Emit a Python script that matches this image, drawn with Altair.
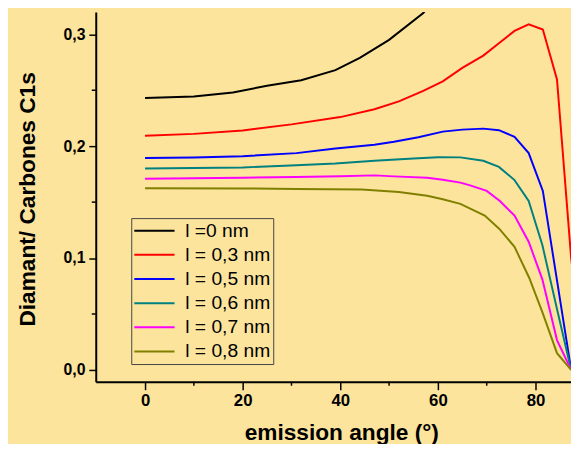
import altair as alt
import pandas as pd

series_names = ["l =0 nm", "l = 0,3 nm", "l = 0,5 nm", "l = 0,6 nm", "l = 0,7 nm", "l = 0,8 nm"]
series_colors = ["#000000", "#ff0000", "#0000ff", "#008080", "#ff00ff", "#808000"]

angle_l0 = [0, 10, 18, 25, 32, 39, 44, 50, 57, 60]
ratio_l0 = [0.243, 0.2445, 0.248, 0.254, 0.259, 0.268, 0.279, 0.295, 0.319, 0.335]

angle_l03 = [0, 10, 20, 30, 40, 47, 52, 57, 61, 65, 69.3, 72.5, 75.7, 78.6, 81.5, 84.4, 87.3, 90]
ratio_l03 = [0.2093, 0.211, 0.214, 0.2195, 0.226, 0.233, 0.240, 0.2495, 0.258, 0.270, 0.281, 0.292,
             0.303, 0.309, 0.3043, 0.2597, 0.100, 0.0]

angle_l05 = [0, 10, 20, 31, 39, 47, 51, 56, 61, 65, 69.3, 72.5, 75.7, 78.6, 81.5, 84.4, 87.3]
ratio_l05 = [0.1894, 0.1898, 0.191, 0.1938, 0.198, 0.2013, 0.204, 0.208, 0.213, 0.2148, 0.2157,
             0.2143, 0.2084, 0.1938, 0.160, 0.080, 0.0]

angle_l06 = [0, 10, 20, 31, 39, 47, 55, 60, 64.6, 69.3, 72.5, 75.7, 78.6, 81.4, 84.4, 87.3]
ratio_l06 = [0.180, 0.1805, 0.181, 0.183, 0.1845, 0.187, 0.189, 0.1902, 0.190, 0.187, 0.1815,
             0.1697, 0.151, 0.1117, 0.0545, 0.0]

angle_l07 = [0, 20, 31, 40, 47, 51, 57.8, 61, 64.6, 66.6, 70, 72.7, 75.7, 78.6, 81.4, 84.4, 87.3]
ratio_l07 = [0.1709, 0.1718, 0.1724, 0.1732, 0.1739, 0.173, 0.1718, 0.170, 0.1674, 0.165, 0.160,
             0.151, 0.138, 0.1146, 0.081, 0.0267, 0.0]

angle_l08 = [0, 20, 31, 44.4, 52, 57.8, 61, 64.6, 69.6, 72.6, 75.7, 78.7, 81.4, 84.4, 87.3]
ratio_l08 = [0.1624, 0.1622, 0.1618, 0.1612, 0.159, 0.1557, 0.1525, 0.1484, 0.138, 0.126, 0.110,
             0.0824, 0.0516, 0.015, 0.0]

x_major = [0, 20, 40, 60, 80]
x_minor = [10, 30, 50, 70]
y_major = [0.0, 0.1, 0.2, 0.3]
y_minor = [0.05, 0.15, 0.25]

series_data = [
    (series_names[0], angle_l0, ratio_l0),
    (series_names[1], angle_l03, ratio_l03),
    (series_names[2], angle_l05, ratio_l05),
    (series_names[3], angle_l06, ratio_l06),
    (series_names[4], angle_l07, ratio_l07),
    (series_names[5], angle_l08, ratio_l08),
]
rows = []
for name, angles, vals in series_data:
    for i, (a, v) in enumerate(zip(angles, vals)):
        rows.append({"series": name, "angle": a, "ratio": v, "order": i})
df = pd.DataFrame(rows)
xminor_df = pd.DataFrame({"angle": x_minor})
yminor_df = pd.DataFrame({"ratio": y_minor})

BG = "#FCE49C"
FONT = "Liberation Sans"
PLOT_W, PLOT_H = 482, 375
x_scale = alt.Scale(domain=[-10.1, 87.27], nice=False, zero=False)
y_scale = alt.Scale(domain=[-0.0106, 0.3199], nice=False, zero=False)
label_expr = "replace(format(datum.value, '.1f'), '.', ',')"

lines = alt.Chart(df).mark_line(strokeWidth=2, clip=True).encode(
    x=alt.X("angle:Q", scale=x_scale,
            axis=alt.Axis(values=x_major, format="d", title="emission angle (°)", orient="bottom",
                          domain=True, tickSize=8, labelFontSize=17, labelFontWeight="bold",
                          labelPadding=3, titleFontSize=23, titleFontWeight="bold", titleX=249,
                          titleY=59, titleBaseline="alphabetic", titleAlign="center")),
    y=alt.Y("ratio:Q", scale=y_scale,
            axis=alt.Axis(values=y_major, labelExpr=label_expr, title="Diamant/ Carbones C1s",
                          orient="left", domain=True, tickSize=7, labelFontSize=16,
                          labelFontWeight="bold", labelPadding=4, titleFontSize=23,
                          titleFontWeight="bold", titleX=-62, titleY=189.5, titleAngle=270,
                          titleBaseline="alphabetic", titleAlign="center")),
    color=alt.Color("series:N", scale=alt.Scale(domain=series_names, range=series_colors),
                    legend=alt.Legend(title=None, orient="none", legendX=36, legendY=209,
                                      symbolType="M-2.4,0H2.4", symbolSize=289, symbolStrokeWidth=2,
                                      labelFont=FONT, labelFontSize=19.5, labelColor="black",
                                      labelOffset=21.5, symbolOffset=10.75, padding=3,
                                      rowPadding=3.5, strokeColor="#444444", labelLimit=400)),
    order="order:Q",
)

xminor_ticks = alt.Chart(xminor_df).mark_rule(color="black", strokeWidth=1.5, clip=False).encode(
    x=alt.X("angle:Q", scale=x_scale),
    y=alt.value(PLOT_H),
    y2=alt.value(PLOT_H + 4),
)
yminor_ticks = alt.Chart(yminor_df).mark_rule(color="black", strokeWidth=1.5, clip=False).encode(
    y=alt.Y("ratio:Q", scale=y_scale),
    x=alt.value(0),
    x2=alt.value(-4),
)

chart = alt.layer(lines, xminor_ticks, yminor_ticks).properties(
    width=PLOT_W, height=PLOT_H, background=BG,
    padding={"left": 89, "top": 1, "right": 0, "bottom": 60},
    autosize=alt.AutoSizeParams(type="none"),
).configure_view(strokeWidth=0, fill=BG).configure_axis(
    labelFont=FONT, titleFont=FONT, domainColor="black", tickColor="black",
    labelColor="black", titleColor="black", grid=False, domainWidth=2, tickWidth=1.5,
)

chart.save("out.html", embed_options={"renderer": "svg", "actions": False})
